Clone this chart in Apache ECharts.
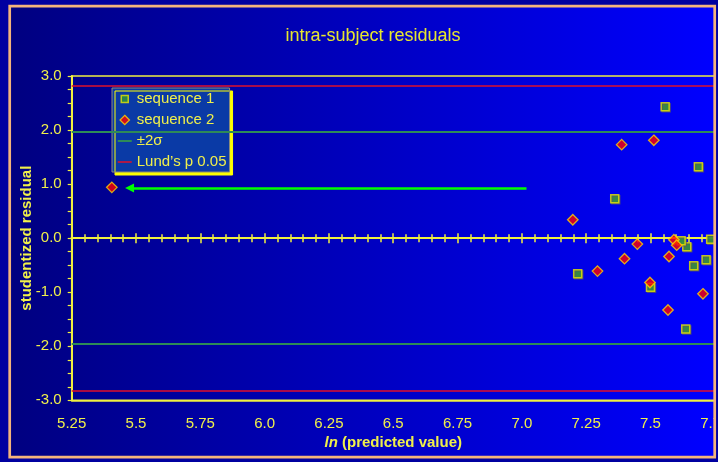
<!DOCTYPE html>
<html>
<head>
<meta charset="utf-8">
<script src="https://cdn.jsdelivr.net/npm/echarts@6/dist/echarts.min.js"></script>
<style>
html,body{margin:0;padding:0;background:#0000a0;}
#chart{width:718px;height:462px;}
</style>
</head>
<body>
<div id="chart"></div>
<script>
// ---- data ----
const xTickLabels = ['5.25','5.5','5.75','6.0','6.25','6.5','6.75','7.0','7.25','7.5','7.75'];
const yTickLabels = ['-3.0','-2.0','-1.0','0.0','1.0','2.0','3.0'];
const seq1X = [7.557, 7.686, 7.361, 7.217, 7.500, 7.637, 7.716, 7.668, 7.641, 7.619, 7.734];
const seq1Y = [2.43, 1.32, 0.73, -0.66, -0.91, -1.68, -0.40, -0.51, -0.16, -0.05, -0.02];
const seq2X = [5.406, 7.198, 7.388, 7.513, 7.294, 7.399, 7.449, 7.572, 7.498, 7.568, 7.704, 7.591, 7.602];
const seq2Y = [0.94, 0.34, 1.73, 1.81, -0.61, -0.38, -0.11, -0.34, -0.82, -1.33, -1.03, -0.03, -0.13];
const sigmaLevels = [1.96, -1.96];
const lundLevels = [2.82, -2.82];
const arrowX = [7.018, 5.475];
const arrowY = 0.93;

const FONT = "'Liberation Sans', Arial, sans-serif";
const YEL = '#f0f04a';
const zip = (xs, ys) => xs.map((x, i) => [x, ys[i]]);

const chart = echarts.init(document.getElementById('chart'), null, {renderer: 'canvas'});
const baseX = {type: 'value', min: 5.25, max: 7.75, interval: 0.25, splitLine: {show: false}};

chart.setOption({
  animation: false,
  backgroundColor: 'transparent',
  textStyle: {fontFamily: FONT},
  title: {
    text: 'intra-subject residuals',
    left: 373, textAlign: 'center', top: 27, padding: 0,
    textStyle: {color: '#e6e62e', fontSize: 18, fontWeight: 'normal', fontFamily: FONT}
  },
  grid: {
    left: 71.7, right: 3.2, top: 76, bottom: 61.7,
    containLabel: false, outerBoundsMode: 'none',
    show: true, borderColor: '#f0f040', borderWidth: 1.5, backgroundColor: 'transparent'
  },
  legend: {
    orient: 'vertical', left: 112, top: 88,
    itemWidth: 14, itemHeight: 10, itemGap: 6,
    padding: [3.5, 3, 2.5, 5],
    backgroundColor: '#0a3aa6', borderColor: '#8c8c7c', borderWidth: 1,
    shadowColor: '#ffff00', shadowOffsetX: 3, shadowOffsetY: 3, shadowBlur: 0,
    selectedMode: false,
    textStyle: {color: YEL, fontSize: 15, fontFamily: FONT},
    data: [
      {name: 'sequence 1', icon: 'path://M0,0L0,0M14,10L14,10M3.5,1.5H10.5V8.5H3.5Z',
        itemStyle: {color: '#339933', borderColor: '#e8e800', borderWidth: 1.5}},
      {name: 'sequence 2', icon: 'path://M0,0L0,0M14,10L14,10M7,0.3L11.7,5L7,9.7L2.3,5Z',
        itemStyle: {color: '#ff0000', borderColor: '#ffd700', borderWidth: 1.3}},
      {name: '±2σ', icon: 'path://M0,0L0,0M14,10L14,10M0,4H14V6H0Z',
        itemStyle: {color: '#2e8b57', borderWidth: 0}},
      {name: 'Lund’s p 0.05', icon: 'path://M0,0L0,0M14,10L14,10M0,4.25H14V5.75H0Z',
        itemStyle: {color: '#e0102a', borderWidth: 0}}
    ]
  },
  xAxis: [
    Object.assign({}, baseX, {
      position: 'bottom',
      axisLine: {onZero: false, lineStyle: {color: '#f0f040', width: 1.5}},
      axisTick: {show: false},
      axisLabel: {color: YEL, fontSize: 15, margin: 16, fontFamily: FONT,
        formatter: v => xTickLabels[Math.round((v - 5.25) / 0.25)]},
      name: '{i|ln} (predicted value)',
      nameLocation: 'middle', nameGap: 35, nameMoveOverlap: false,
      nameTextStyle: {color: YEL, fontSize: 15, fontWeight: 'bold', fontFamily: FONT,
        rich: {i: {fontStyle: 'italic', fontWeight: 'bold', fontSize: 15, color: YEL, fontFamily: FONT}}}
    }),
    Object.assign({}, baseX, {
      position: 'bottom',
      axisLine: {onZero: true, onZeroAxisIndex: 0, lineStyle: {color: '#f0f040', width: 2}},
      axisTick: {show: true, length: 5, lineStyle: {color: '#f0f040', width: 1.5}},
      minorTick: {show: true, splitNumber: 5, length: 4, lineStyle: {color: '#f0f040', width: 1.5}},
      axisLabel: {show: false}
    }),
    Object.assign({}, baseX, {
      position: 'top',
      axisLine: {onZero: true, onZeroAxisIndex: 0, lineStyle: {color: '#f0f040', width: 2}},
      axisTick: {show: true, length: 5, lineStyle: {color: '#f0f040', width: 1.5}},
      minorTick: {show: true, splitNumber: 5, length: 4, lineStyle: {color: '#f0f040', width: 1.5}},
      axisLabel: {show: false}
    })
  ],
  yAxis: {
    type: 'value', min: -3, max: 3, interval: 1,
    splitLine: {show: false},
    axisLine: {show: true, onZero: false, lineStyle: {color: '#f0f040', width: 2}},
    axisTick: {show: true, length: 4, lineStyle: {color: '#f0f040', width: 1.2}},
    minorTick: {show: true, splitNumber: 4, length: 4, lineStyle: {color: '#f0f040', width: 1.2}},
    axisLabel: {color: YEL, fontSize: 15, margin: 10, fontFamily: FONT,
      formatter: v => yTickLabels[Math.round(v + 3)]},
    name: 'studentized residual',
    nameLocation: 'middle', nameGap: 37, nameMoveOverlap: false,
    nameTextStyle: {color: YEL, fontSize: 15, fontWeight: 'bold', fontFamily: FONT}
  },
  graphic: [
    {type: 'rect', silent: true, z: -20, shape: {x: 0, y: 0, width: 718, height: 462}, style: {fill: '#0000a0'}},
    {type: 'rect', silent: true, z: -19, shape: {x: 9.7, y: 6.2, width: 705, height: 451},
      style: {fill: {type: 'linear', x: 0, y: 0, x2: 1, y2: 0,
        colorStops: [{offset: 0, color: '#000080'}, {offset: 1, color: '#0000ff'}]}}},
    {type: 'rect', silent: true, z: 100, shape: {x: 715.8, y: 0, width: 3, height: 462}, style: {fill: '#0000a0'}},
    {type: 'rect', silent: true, z: 101, shape: {x: 9.7, y: 6.2, width: 705, height: 451},
      style: {fill: 'none', stroke: '#f4b47c', lineWidth: 2.7}}
  ],
  series: [
    {
      name: '±2σ', type: 'line', data: [], color: '#2e8b57',
      itemStyle: {color: '#2e8b57'},
      markLine: {silent: true, symbol: 'none', label: {show: false},
        lineStyle: {color: '#2e8b57', width: 2, type: 'solid'},
        emphasis: {disabled: true},
        data: sigmaLevels.map(v => ({yAxis: v}))}
    },
    {
      name: 'Lund’s p 0.05', type: 'line', data: [], color: '#e0102a',
      itemStyle: {color: '#e0102a'},
      markLine: {silent: true, symbol: 'none', label: {show: false},
        lineStyle: {color: '#e0102a', width: 1.5, type: 'solid'},
        emphasis: {disabled: true},
        data: lundLevels.map(v => ({yAxis: v}))}
    },
    {
      name: 'sequence 1', type: 'scatter', xAxisIndex: 0,
      data: zip(seq1X, seq1Y),
      symbol: 'rect', symbolSize: 8,
      itemStyle: {color: '#339933', borderColor: '#e8e800', borderWidth: 1.5,
        shadowColor: 'rgba(90,90,90,0.9)', shadowOffsetX: 1, shadowOffsetY: 1, shadowBlur: 0}
    },
    {
      name: 'sequence 2', type: 'scatter', xAxisIndex: 0,
      data: zip(seq2X, seq2Y),
      symbol: 'diamond', symbolSize: 10.5,
      itemStyle: {color: '#ff0000', borderColor: '#ffd700', borderWidth: 1.3},
      markLine: {silent: true, symbol: ['none', 'triangle'], symbolSize: 9,
        label: {show: false}, emphasis: {disabled: true},
        lineStyle: {color: '#00ff00', width: 2.5, type: 'solid'},
        data: [[{coord: [arrowX[0], arrowY]}, {coord: [arrowX[1], arrowY]}]]}
    }
  ]
});
</script>
</body>
</html>
